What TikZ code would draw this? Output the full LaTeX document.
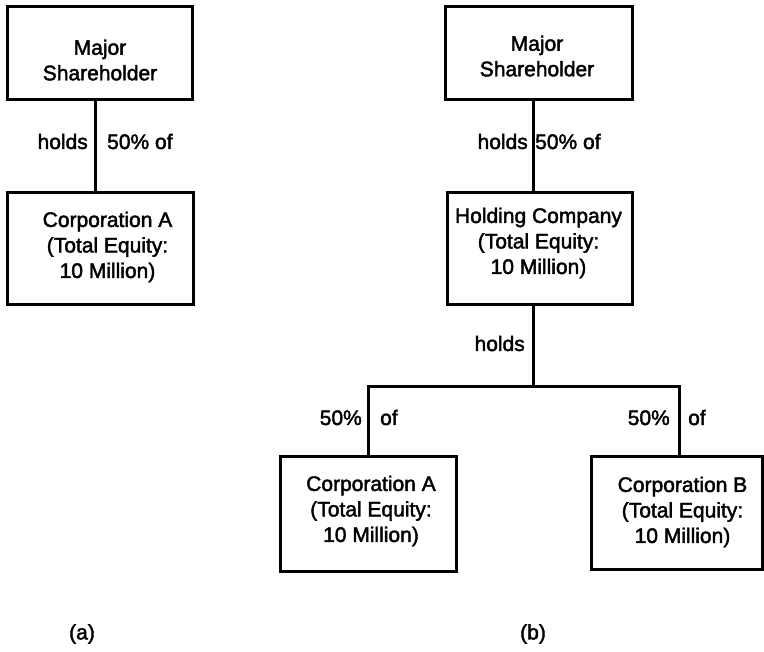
\documentclass[tikz,border=0pt]{standalone}
\usepackage{fontspec}
\setmainfont{Liberation Sans}
% emboldened face for all the lettering
\newfontfamily\heavy{Liberation Sans}[FakeBold=2]
\begin{document}
\begin{tikzpicture}[x=1pt,y=-1pt,
  box/.style={draw, line width=3pt, rectangle, inner sep=0pt},
  txt/.style={font=\heavy\fontsize{21}{25.5}\selectfont, align=center, inner sep=0pt},
  lbl/.style={font=\heavy\fontsize{21}{25.5}\selectfont, inner sep=0pt},
  link/.style={line width=3pt}]
\useasboundingbox (0,0) rectangle (764,652);

% ---- (a) direct ownership ----
\node[box, minimum width=185pt, minimum height=93pt]  (msa)  at (99.5,53.5) {};
\node[txt] (msa-t) at (100,60) {Major\\Shareholder};
\node[box, minimum width=186pt, minimum height=112pt] (cora) at (100,249) {};
\node[txt] (cora-t) at (107.5,247) {Corporation A\\(Total Equity:\\10 Million)};

\coordinate (la) at (95,0);
\draw[link] (msa.south -| la) -- (cora.north -| la);
\node[lbl, anchor=base east] (holds-a) at (88,149) {holds};
\node[lbl, anchor=base west] (pct-a)   at (107,149) {50\% of};

% ---- (b) ownership through a holding company ----
\node[box, minimum width=187pt, minimum height=93pt]  (msb)  at (538.5,53.5) {};
\node[txt] (msb-t) at (537,56) {Major\\Shareholder};
\node[box, minimum width=185pt, minimum height=112pt] (hc)   at (539.5,249) {};
\node[txt] (hc-t) at (538.5,243) {Holding Company\\(Total Equity:\\10 Million)};

\coordinate (hx) at (533,0);
\draw[link] (msb.south -| hx) -- (hc.north -| hx);
\node[lbl, anchor=base east] (holds-b) at (528,149) {holds};
\node[lbl, anchor=base west] (pct-b)   at (535,149) {50\% of};

\node[box, minimum width=176pt, minimum height=114pt] (corab) at (368,514) {};
\node[txt] (corab-t) at (371,511) {Corporation A\\(Total Equity:\\10 Million)};
\node[box, minimum width=171pt, minimum height=112pt] (corb)  at (676.5,513) {};
\node[txt] (corb-t) at (682.5,512) {Corporation B\\(Total Equity:\\10 Million)};

\coordinate (jn) at (533,387);
\coordinate (ja) at (368,387);
\coordinate (jb) at (679,387);
\draw[link] (hc.south -| jn) -- (jn);
\draw[link, line join=miter] (corab.north -| ja) -- (ja) -- (jb) -- (corb.north -| jb);

\node[lbl, anchor=base east] (holds-c) at (525,351) {holds};
\node[lbl, anchor=base east] (pct-l)   at (362,425) {50\%};
\node[lbl, anchor=base west] (of-l)    at (380,425) {of};
\node[lbl, anchor=base east] (pct-r)   at (670,425) {50\%};
\node[lbl, anchor=base west] (of-r)    at (688,425) {of};

% ---- panel captions ----
\node[lbl] (cap-a) at (82,634) {(a)};
\node[lbl] (cap-b) at (533,634) {(b)};
\end{tikzpicture}
\end{document}
